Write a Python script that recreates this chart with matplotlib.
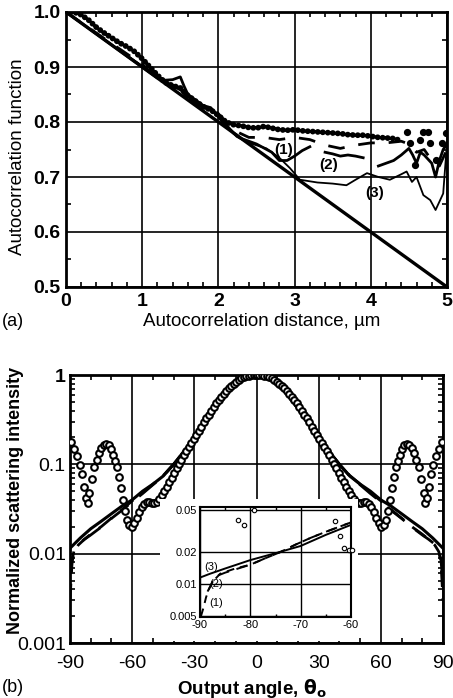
import numpy as np
import matplotlib
matplotlib.use("Agg")
import matplotlib.pyplot as plt
from matplotlib.patches import Rectangle
from matplotlib.ticker import MultipleLocator, FixedLocator, NullFormatter, LogLocator, FixedFormatter

plt.rcParams['font.family'] = ['Liberation Sans', 'DejaVu Sans']
plt.rcParams['axes.unicode_minus'] = False

# ---------------- Panel (a) data ----------------
line_x = [0.0, 5.0]
line_y = [1.0, 0.5]

dots_x = [0.0, 0.1, 0.2, 0.3, 0.4, 0.5, 0.6, 0.7, 0.8, 0.9, 1.0, 1.1, 1.2, 1.3, 1.4, 1.5,
          1.6, 1.7, 1.8, 1.9, 2.0, 2.1, 2.2, 2.3, 2.4, 2.5, 2.6, 2.7, 2.8, 2.9, 3.0, 3.1,
          3.2, 3.3, 3.4, 3.5, 3.6, 3.7, 3.8, 3.9, 4.0, 4.1, 4.2, 4.3, 4.4]
dots_y = [1.000, 1.000, 0.995, 0.985, 0.972, 0.962, 0.953, 0.944, 0.937, 0.928, 0.915,
          0.900, 0.885, 0.872, 0.866, 0.862, 0.848, 0.838, 0.828, 0.822, 0.812, 0.800,
          0.795, 0.793, 0.790, 0.789, 0.792, 0.789, 0.786, 0.785, 0.786, 0.784, 0.783,
          0.782, 0.781, 0.780, 0.779, 0.777, 0.776, 0.776, 0.774, 0.772, 0.771, 0.770, 0.766]
scatter_x = [4.47, 4.51, 4.58, 4.64, 4.69, 4.75, 4.78, 4.85, 4.93, 4.99]
scatter_y = [0.782, 0.762, 0.722, 0.768, 0.782, 0.782, 0.762, 0.731, 0.762, 0.780]

c1_x = [0, 0.5, 1.0, 1.2, 1.3, 1.5, 1.6, 1.8, 1.9, 2.0, 2.1, 2.2, 2.4, 2.6, 2.8, 3.0,
        3.2, 3.4, 3.6, 3.8, 4.0, 4.2, 4.4, 4.5, 4.6, 4.7, 4.8, 4.9, 5.0]
c1_y = [1.0, 0.952, 0.905, 0.88, 0.872, 0.862, 0.845, 0.828, 0.826, 0.815, 0.80, 0.785,
        0.772, 0.772, 0.768, 0.772, 0.768, 0.758, 0.752, 0.758, 0.762, 0.762, 0.765, 0.76,
        0.745, 0.75, 0.73, 0.72, 0.75]

c2_x = [0, 0.5, 1.0, 1.2, 1.3, 1.4, 1.5, 1.55, 1.6, 1.8, 1.9, 2.0, 2.1, 2.2, 2.3, 2.5,
        2.7, 2.8, 2.9, 3.0, 3.1, 3.2, np.nan, 3.4, 3.5, 3.6, 3.7, 3.8, 3.9, np.nan,
        4.1, 4.2, 4.3, 4.4, 4.5, 4.55, 4.6, 4.65, 4.7, 4.8, 4.85, 4.9, 4.95, 5.0]
c2_y = [1.0, 0.95, 0.90, 0.88, 0.876, 0.877, 0.882, 0.865, 0.85, 0.83, 0.826, 0.81,
        0.795, 0.78, 0.77, 0.76, 0.745, 0.73, 0.73, 0.738, 0.748, 0.755, np.nan, 0.745,
        0.742, 0.738, 0.74, 0.738, 0.735, np.nan, 0.72, 0.725, 0.73, 0.74, 0.752, 0.74,
        0.725, 0.745, 0.74, 0.725, 0.70, 0.73, 0.75, 0.76]

c3_x = [0, 0.5, 1.0, 1.2, 1.3, 1.5, 1.6, 1.8, 1.9, 2.0, 2.1, 2.24, 2.4, 2.63, 2.8, 2.94,
        3.07, 3.3, 3.5, 3.68, 3.8, 3.95, 4.1, 4.25, 4.4, 4.47, 4.54, 4.6, 4.69, 4.78,
        4.85, 4.95, 5.0]
c3_y = [1.0, 0.95, 0.902, 0.882, 0.87, 0.858, 0.842, 0.825, 0.822, 0.808, 0.792, 0.773,
        0.762, 0.752, 0.735, 0.716, 0.695, 0.69, 0.688, 0.685, 0.695, 0.707, 0.70, 0.695,
        0.705, 0.71, 0.691, 0.70, 0.667, 0.658, 0.64, 0.67, 0.762]

# ---------------- Panel (b) data (left half, mirrored) ----------------
circ_th = [-89.5, -88.0, -86.5, -85.0, -84.0, -83.2, -82.3, -81.5, -80.7, -79.5, -78.3,
           -77.2, -76.0, -75.0, -73.8, -72.6, -71.4, -70.3, -69.2, -68.2, -67.4, -66.5,
           -65.4, -64.4, -63.4, -62.4, -61.3, -60.2, -59.0, -57.8, -56.6, -55.4, -54.2,
           -53.0, -51.8, -50.6, -49.4, -48.2, -47.0, -45.8, -44.6, -43.4, -42.2, -41.0,
           -39.8, -38.6, -37.4, -36.2, -35.0, -33.8, -32.6, -31.4, -30.2, -29.0, -27.8,
           -26.6, -25.4, -24.2, -23.0, -21.8, -20.6, -19.4, -18.2, -17.0, -15.8, -14.6,
           -13.4, -12.2, -11.0, -9.8, -8.6, -7.4, -6.2, -5.0, -3.8, -2.6, -1.4, -0.2]
circ_I = [0.178, 0.150, 0.125, 0.098, 0.078, 0.056, 0.042, 0.037, 0.048, 0.068, 0.094,
          0.112, 0.135, 0.152, 0.163, 0.168, 0.163, 0.147, 0.128, 0.110, 0.093, 0.072,
          0.054, 0.040, 0.030, 0.024, 0.021, 0.020, 0.022, 0.025, 0.029, 0.033, 0.036,
          0.038, 0.038, 0.037, 0.037, 0.038, 0.041, 0.045, 0.050, 0.056, 0.063, 0.071,
          0.080, 0.090, 0.101, 0.113, 0.126, 0.140, 0.155, 0.172, 0.190, 0.212, 0.238,
          0.265, 0.295, 0.326, 0.360, 0.398, 0.440, 0.480, 0.522, 0.565, 0.610, 0.665,
          0.710, 0.755, 0.800, 0.845, 0.885, 0.920, 0.948, 0.968, 0.983, 0.993, 0.998, 1.000]

sol_th = [-90, -85, -80, -75, -70, -65, -60, -55, -50, -45, -40, -35, -30, -25, -20, -15, -10, -5, 0]
sol_I = [0.0115, 0.015, 0.019, 0.023, 0.028, 0.034, 0.040, 0.050, 0.060, 0.074, 0.10, 0.14,
         0.20, 0.29, 0.42, 0.60, 0.80, 0.95, 1.0]

d1_th = [-90, -89.5, -89, -88, -86, -83, -80, -75, -70, -65, -60, -55, -50, -45, -40, -35,
         -30, -25, -20, -15, -10, -5, 0]
d1_I = [0.003, 0.005, 0.008, 0.0105, 0.0125, 0.0145, 0.0165, 0.020, 0.025, 0.031, 0.039,
        0.048, 0.060, 0.075, 0.10, 0.14, 0.20, 0.29, 0.42, 0.60, 0.80, 0.95, 1.0]
d2_th = [-89.6, -89, -88, -86, -83, -80, -75, -70, -65, -60, -55, -50, -45, -40, -35,
         -30, -25, -20, -15, -10, -5, 0]
d2_I = [0.006, 0.0085, 0.011, 0.0128, 0.0145, 0.0162, 0.0198, 0.0248, 0.0305, 0.038,
        0.047, 0.059, 0.074, 0.10, 0.14, 0.20, 0.29, 0.42, 0.60, 0.80, 0.95, 1.0]

# inset data
in_c_th = [-82.4, -81.3, -79.2, -63.2, -62.2, -61.3, -60.4, -59.8]
in_c_I = [0.040, 0.036, 0.050, 0.039, 0.028, 0.022, 0.021, 0.021]
in3_th = [-90, -88, -85, -80, -75, -70, -65, -60]
in3_I = [0.0115, 0.0125, 0.014, 0.0168, 0.0195, 0.0228, 0.029, 0.036]
in2_th = [-88.5, -87.5, -86.5, -85, -82, -80, -77, -74, -71, -68, -65, -62, -60]
in2_I = [0.0085, 0.0105, 0.012, 0.0128, 0.0142, 0.0152, 0.0175, 0.020, 0.0235, 0.0272,
         0.031, 0.035, 0.038]
in1_th = [-89.8, -89.3, -88.8, -88.2, -87.5, -86, -83, -80, -77, -74, -71, -68, -65, -62, -60]
in1_I = [0.005, 0.006, 0.0075, 0.009, 0.0105, 0.0125, 0.014, 0.0152, 0.0175, 0.020,
         0.0235, 0.0272, 0.031, 0.035, 0.038]


def mirror(th, I):
    th = np.asarray(th, float)
    I = np.asarray(I, float)
    return np.concatenate([th, -th[::-1]]), np.concatenate([I, I[::-1]])


W, H = 453, 698
fig = plt.figure(figsize=(W / 100, H / 100), dpi=100)

# ---------------- Panel (a) ----------------
ax1 = fig.add_axes([66 / W, 1 - 287 / H, 381 / W, 275 / H])
ax1.set_xlim(0, 5)
ax1.set_ylim(0.5, 1.0)
ax1.xaxis.set_major_locator(MultipleLocator(1))
ax1.yaxis.set_major_locator(MultipleLocator(0.1))
ax1.xaxis.set_minor_locator(MultipleLocator(0.2))
ax1.yaxis.set_minor_locator(MultipleLocator(0.05))
ax1.grid(True, which='major', color='black', lw=1.2)
ax1.set_axisbelow(True)
ax1.tick_params(which='both', direction='in', top=True, right=True)
ax1.tick_params(which='major', length=0, labelsize=14, pad=4)
ax1.tick_params(which='minor', length=3.5, width=1.2)
ax1.yaxis.set_major_formatter(matplotlib.ticker.FormatStrFormatter('%.1f'))
for lab in ax1.get_xticklabels() + ax1.get_yticklabels():
    lab.set_fontweight('bold')
for s in ax1.spines.values():
    s.set_linewidth(2)

ax1.plot(line_x, line_y, color='black', lw=2.4, zorder=3)
ax1.plot(c3_x, c3_y, color='black', lw=1.3, zorder=3)
ax1.plot(c2_x, c2_y, color='black', lw=2.0, zorder=3)
ax1.plot(c1_x, c1_y, color='black', lw=2.0, dashes=(6, 5), zorder=3)
ax1.plot(dots_x, dots_y, color='black', lw=4.2, linestyle=(0, (0.01, 0.85)),
         dash_capstyle='round', zorder=4)
ax1.plot(scatter_x, scatter_y, 'o', color='black', ms=4.2, zorder=4)
for txt, xx, yy in [('(1)', 2.85, 0.749), ('(2)', 3.44, 0.722), ('(3)', 4.05, 0.671)]:
    ax1.text(xx, yy, txt, ha='center', va='center', fontsize=11, fontweight='bold', zorder=5)

fig.text(2 / W, 1 - 322 / H, '(a)', fontsize=13, ha='left', va='center')
fig.text(262 / W, 1 - 322 / H, 'Autocorrelation distance, µm', fontsize=13.5,
         ha='center', va='center')
fig.text(18 / W, 1 - 157 / H, 'Autocorrelation function', fontsize=13.5,
         ha='center', va='center', rotation=90)

# ---------------- Panel (b) ----------------
ax2 = fig.add_axes([70 / W, 1 - 643 / H, 373 / W, 268 / H])
ax2.set_yscale('log')
ax2.set_xlim(-90, 90)
ax2.set_ylim(0.001, 1)
ax2.xaxis.set_major_locator(MultipleLocator(30))
ax2.xaxis.set_minor_locator(MultipleLocator(10))
ax2.yaxis.set_major_locator(FixedLocator([0.001, 0.01, 0.1, 1]))
ax2.yaxis.set_major_formatter(FixedFormatter(['0.001', '0.01', '0.1', '1']))
ax2.yaxis.set_minor_locator(LogLocator(base=10, subs=np.arange(2, 10)))
ax2.yaxis.set_minor_formatter(NullFormatter())
ax2.grid(True, which='major', color='black', lw=1.2)
ax2.set_axisbelow(True)
ax2.tick_params(which='both', direction='in', top=True, right=True)
ax2.tick_params(which='major', length=0, labelsize=14, pad=3)
ax2.tick_params(axis='x', which='major', pad=9)
ax2.tick_params(which='minor', length=3.5, width=1.2)
for s in ax2.spines.values():
    s.set_linewidth(2)
for lab in ax2.get_yticklabels():
    if lab.get_text() == '1':
        lab.set_fontweight('bold')

th, I = mirror(sol_th, sol_I)
ax2.plot(th, I, color='black', lw=2.2, zorder=3)
th, I = mirror(d1_th, d1_I)
ax2.plot(th, I, color='black', lw=2.0, dashes=(6, 4), zorder=3)
th, I = mirror(d2_th, d2_I)
ax2.plot(th, I, color='black', lw=2.0, dashes=(8, 5), zorder=3)
th, I = mirror(circ_th, circ_I)
ax2.plot(th, I, 'o', ms=4.8, mfc='white', mec='black', mew=1.5, zorder=4)

fig.text(2 / W, 1 - 688 / H, '(b)', fontsize=13, ha='left', va='center')
fig.text(252 / W, 1 - 688 / H, r'Output angle, $\mathbf{\theta_o}$', fontsize=13.5,
         ha='center', va='center', fontweight='bold')
fig.text(16 / W, 1 - 500 / H, 'Normalized scattering intensity', fontsize=13,
         ha='center', va='center', rotation=90, fontweight='bold')

# white backing for inset
rect = Rectangle((160 / W, 1 - 641 / H), (358 - 160) / W, (641 - 499) / H,
                 transform=fig.transFigure, facecolor='white', edgecolor='none', zorder=1)
fig.patches.append(rect)

# ---------------- Inset ----------------
ax3 = fig.add_axes([200 / W, 1 - 617 / H, 151 / W, 110 / H])
ax3.set_zorder(2)
ax3.set_yscale('log')
ax3.set_xlim(-90, -60)
ax3.set_ylim(0.0049, 0.053)
ax3.xaxis.set_major_locator(MultipleLocator(10))
ax3.xaxis.set_minor_locator(MultipleLocator(5))
ax3.yaxis.set_major_locator(FixedLocator([0.005, 0.01, 0.02, 0.05]))
ax3.yaxis.set_major_formatter(FixedFormatter(['0.005', '0.01', '0.02', '0.05']))
ax3.yaxis.set_minor_locator(FixedLocator([]))
ax3.yaxis.set_minor_formatter(NullFormatter())
ax3.grid(True, which='major', color='black', lw=1.0)
ax3.set_axisbelow(True)
ax3.tick_params(which='both', direction='in', top=True, right=True)
ax3.tick_params(which='major', length=0, labelsize=8, pad=2)
ax3.tick_params(which='minor', length=2.5, width=1.0)
for s in ax3.spines.values():
    s.set_linewidth(1.5)
ax3.plot(in3_th, in3_I, color='black', lw=1.4, zorder=3)
ax3.plot(in2_th, in2_I, color='black', lw=1.4, dashes=(6, 4), zorder=3)
ax3.plot(in1_th, in1_I, color='black', lw=1.4, dashes=(4, 3), zorder=3)
ax3.plot(in_c_th, in_c_I, 'o', ms=3.2, mfc='white', mec='black', mew=0.8, zorder=4,
         clip_on=False)
for txt, xx, yy in [('(3)', -87.8, 0.0146), ('(2)', -86.8, 0.0100), ('(1)', -86.8, 0.0066)]:
    ax3.text(xx, yy, txt, ha='center', va='center', fontsize=8, zorder=5)

fig.savefig('out.png', dpi=100)
